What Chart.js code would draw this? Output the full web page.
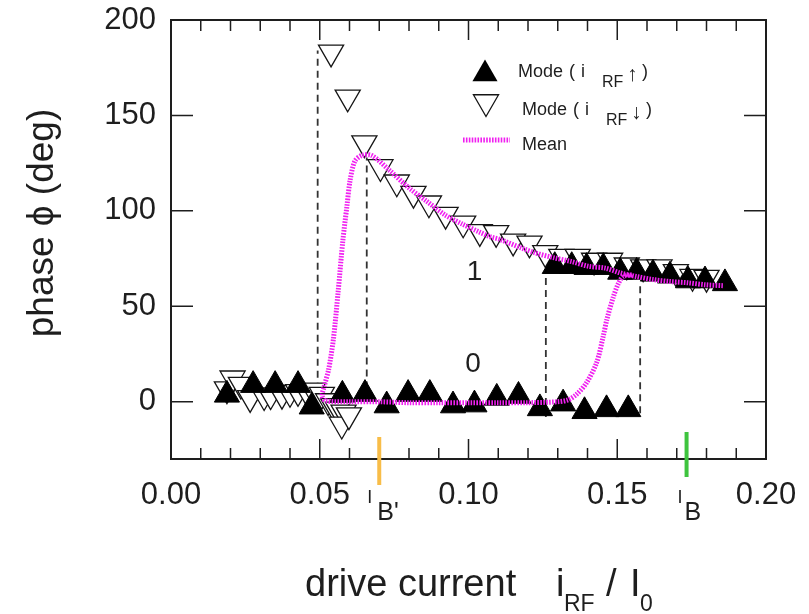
<!DOCTYPE html>
<html>
<head>
<meta charset="utf-8">
<script src="https://cdn.jsdelivr.net/npm/chart.js@4.4.1/dist/chart.umd.min.js"></script>
<style>
  body { margin: 0; background: #fff; }
  canvas { display: block; }
</style>
</head>
<body>
<canvas id="phaseChart" width="809" height="614"></canvas>
<script>
// axis ticks
const xTickVals = [0, 0.05, 0.1, 0.15, 0.2];
const xMinorStep = 0.01;
const yTickVals = [0, 50, 100, 150, 200];

// mode phase while sweeping i_RF up (filled triangles)
const upX = [0.0188, 0.0276, 0.0350, 0.0427, 0.0473, 0.0576, 0.0652, 0.0725, 0.0797, 0.0870,
  0.0948, 0.1020, 0.1095, 0.1168, 0.1240, 0.1318, 0.1390, 0.1464, 0.1537,
  0.1290, 0.1347, 0.1397, 0.1453, 0.1510, 0.1565, 0.1620, 0.1677, 0.1738, 0.1795, 0.1862];
const upY = [3.6, 8.7, 8.7, 8.7, -2.6, 3.6, 4, -2, 4, 4,
  -2, -1.5, 2, 3, -3.5, -1, -5, -4, -4,
  71, 71, 70.5, 70.5, 68, 68, 67, 66, 63.5, 63.5, 62];

// mode phase while sweeping i_RF down (open triangles)
const downX = [0.0188, 0.0207, 0.0235, 0.0266, 0.0313, 0.0335, 0.0373, 0.0400, 0.0427, 0.0457,
  0.0477, 0.0507, 0.0528, 0.0545, 0.0561, 0.0580, 0.0574, 0.0598,
  0.0538, 0.0594, 0.0650, 0.0704, 0.0759, 0.0815, 0.0867, 0.0923, 0.0982, 0.1038,
  0.1093, 0.1150, 0.1205, 0.1258, 0.1312, 0.1367, 0.1422, 0.1476, 0.1532, 0.1587,
  0.1642, 0.1697, 0.1753, 0.1800];
const downY = [6.6, 12.3, 9, 2, 3, 3.5, 3.7, 4.7, 5.2, 5.2,
  6, 3.7, 0.4, -2.2, -4, -5.6, -11.9, -7,
  183, 159.5, 135.5, 123, 115, 109, 104, 98, 93.5, 89,
  88.5, 84, 83, 78, 76, 76, 74, 74, 71.5, 70.5,
  70.5, 68, 65.5, 65];

// mean phase, listed in drawing order along the curve
const meanX = [0.1855, 0.1795, 0.1738, 0.1677, 0.1620, 0.1565, 0.1510, 0.1460, 0.1403, 0.1347,
  0.1285, 0.1224, 0.1179, 0.1106, 0.1072, 0.1035, 0.0980, 0.0920, 0.0860, 0.0800,
  0.0736, 0.0675, 0.0641, 0.0618, 0.0602, 0.0591, 0.0578, 0.0562, 0.0546, 0.0530,
  0.0515, 0.0508, 0.0520, 0.0600, 0.0700, 0.0800, 0.0900, 0.1000, 0.1100, 0.1200,
  0.1300, 0.1335, 0.1364, 0.1397, 0.1431, 0.1453, 0.1465, 0.1487, 0.1504, 0.1520, 0.1550];
const meanY = [60.8, 61.3, 62.3, 63, 64, 65.6, 67.5, 70, 71, 73.4,
  75.5, 78, 80.5, 85, 86.5, 89, 93, 98, 105, 112,
  121, 129, 129, 126, 116, 102, 85, 58, 33, 17,
  8, 3, 0.5, 0, 0, -0.5, -0.5, -0.5, -0.5, -0.5,
  0, 1, 4, 10, 20.6, 34.4, 43, 55, 62, 65.6, 66.5];

// switching currents (dashed verticals)
const jumpX = [0.0493, 0.0658, 0.1260, 0.1577];
const jumpLow = [0, 7, -8, -6];
const jumpHigh = [184, 128, 68, 63];

// marked currents I_B' and I_B on the x axis
const markX = [0.07, 0.1733];
const markSub = ["B'", "B"];
const markColor = ["#f8bd48", "#3ec43e"];

// branch numbers
const branchText = ["1", "0"];
const branchX = [0.1020, 0.1015];
const branchY = [68, 19.5];

const FONT = "'Liberation Sans', Arial, Helvetica, sans-serif";
const INK = "#1e1e1e";

const toPts = (xs, ys) => xs.map((x, i) => ({ x: x, y: ys[i] }));

const datasets = [
  {
    label: "Mean",
    data: toPts(meanX, meanY),
    showLine: true,
    borderColor: "#f020f0",
    borderWidth: 5,
    borderDash: [1.6, 1.3],
    pointRadius: 0,
    tension: 0.3,
    fill: false,
  },
  {
    label: "Mode up",
    data: toPts(upX, upY),
    pointStyle: "triangle",
    pointRadius: 14.5,
    backgroundColor: "#000",
    borderColor: "#000",
    borderWidth: 1,
    showLine: false,
  },
  {
    label: "Mode down",
    data: toPts(downX, downY),
    pointStyle: "triangle",
    pointRotation: 180,
    pointRadius: 14.5,
    backgroundColor: "#fff",
    borderColor: "#151515",
    borderWidth: 1.3,
    showLine: false,
  },
];

jumpX.forEach((x, i) => {
  datasets.push({
    label: "jump " + i,
    data: [{ x: x, y: jumpLow[i] }, { x: x, y: jumpHigh[i] }],
    showLine: true,
    borderColor: "#333",
    borderWidth: 1.8,
    borderDash: [7, 5],
    pointRadius: 0,
  });
});

// frame, inward ticks, labels with subscripts and the legend
const decor = {
  id: "decor",
  afterDatasetsDraw(chart) {
    const { ctx, chartArea: a } = chart;
    const xs = chart.scales.x;
    const ys = chart.scales.y;
    ctx.save();

    ctx.strokeStyle = INK;
    ctx.lineWidth = 2;
    ctx.strokeRect(a.left, a.top, a.right - a.left, a.bottom - a.top);

    ctx.lineWidth = 1.5;
    ctx.beginPath();
    for (let k = 0; k <= 20; k++) {
      const px = xs.getPixelForValue(k * xMinorStep);
      const len = k % 5 === 0 ? 20 : 11;
      ctx.moveTo(px, a.bottom);
      ctx.lineTo(px, a.bottom - len);
      ctx.moveTo(px, a.top);
      ctx.lineTo(px, a.top + len);
    }
    yTickVals.forEach((v) => {
      const py = ys.getPixelForValue(v);
      ctx.moveTo(a.left, py);
      ctx.lineTo(a.left + 22, py);
      ctx.moveTo(a.right, py);
      ctx.lineTo(a.right - 22, py);
    });
    ctx.stroke();

    // coloured marks for I_B' and I_B
    ctx.lineWidth = 4;
    markX.forEach((v, i) => {
      const px = xs.getPixelForValue(v);
      ctx.strokeStyle = markColor[i];
      ctx.beginPath();
      ctx.moveTo(px, a.bottom - (i === 0 ? 22 : 27));
      ctx.lineTo(px, a.bottom + (i === 0 ? 26 : 18));
      ctx.stroke();
      ctx.fillStyle = INK;
      ctx.textAlign = "left";
      ctx.textBaseline = "alphabetic";
      ctx.font = "18px " + FONT;
      ctx.fillText("I", px - (i === 0 ? 12 : 9), a.bottom + 44);
      ctx.font = "25px " + FONT;
      ctx.fillText(markSub[i], px - 2, a.bottom + 61);
    });

    // branch numbers
    ctx.fillStyle = INK;
    ctx.font = "28px " + FONT;
    ctx.textAlign = "center";
    ctx.textBaseline = "middle";
    branchText.forEach((t, i) => {
      ctx.fillText(t, xs.getPixelForValue(branchX[i]), ys.getPixelForValue(branchY[i]));
    });

    // x axis title
    ctx.textAlign = "left";
    ctx.textBaseline = "alphabetic";
    ctx.font = "38px " + FONT;
    ctx.fillText("drive current", 305, 596);
    ctx.fillText("i", 556, 596);
    ctx.fillText("/", 606, 596);
    ctx.fillText("I", 630, 596);
    ctx.font = "23px " + FONT;
    ctx.fillText("RF", 564, 611);
    ctx.fillText("0", 640, 611);

    // y axis title
    ctx.save();
    ctx.translate(53, 223);
    ctx.rotate(-Math.PI / 2);
    ctx.textAlign = "center";
    ctx.font = "37px " + FONT;
    ctx.fillText("phase \u03D5 (deg)", 0, 0);
    ctx.restore();

    // legend
    const tri = (cx, cy, r, down) => {
      const s = down ? -1 : 1;
      ctx.beginPath();
      ctx.moveTo(cx, cy - s * r);
      ctx.lineTo(cx + r * 0.866, cy + s * r * 0.5);
      ctx.lineTo(cx - r * 0.866, cy + s * r * 0.5);
      ctx.closePath();
    };
    ctx.lineWidth = 1.3;
    tri(485, 74, 14.5, false);
    ctx.fillStyle = "#000";
    ctx.fill();
    tri(486, 102, 14.5, true);
    ctx.fillStyle = "#fff";
    ctx.fill();
    ctx.strokeStyle = "#151515";
    ctx.stroke();

    ctx.strokeStyle = "#f020f0";
    ctx.lineWidth = 5;
    ctx.setLineDash([1.6, 1.3]);
    ctx.beginPath();
    ctx.moveTo(463, 140);
    ctx.lineTo(510, 140);
    ctx.stroke();
    ctx.setLineDash([]);

    ctx.fillStyle = INK;
    const legendRow = (x0, base, arrow) => {
      ctx.font = "18px " + FONT;
      ctx.fillText("Mode", x0, base);
      ctx.fillText("(", x0 + 51, base);
      ctx.fillText("i", x0 + 63, base);
      ctx.font = "16px " + FONT;
      ctx.fillText("RF", x0 + 84, base + 10);
      ctx.font = "21px " + FONT;
      ctx.fillText(arrow, x0 + 109, base + 4);
      ctx.font = "18px " + FONT;
      ctx.fillText(")", x0 + 124, base);
    };
    legendRow(518, 77, "\u2191");
    legendRow(522, 115, "\u2193");
    ctx.font = "18px " + FONT;
    ctx.fillText("Mean", 522, 150);

    ctx.restore();
  },
};

new Chart(document.getElementById("phaseChart"), {
  type: "scatter",
  data: { datasets: datasets },
  options: {
    responsive: false,
    animation: false,
    events: [],
    layout: { padding: { top: 20, right: 43, left: 0, bottom: 0 } },
    scales: {
      x: {
        type: "linear",
        min: 0,
        max: 0.2,
        grid: { display: false },
        border: { display: false },
        afterBuildTicks: (s) => { s.ticks = xTickVals.map((v) => ({ value: v })); },
        afterFit: (s) => {
          s.height = 155;
          s.paddingLeft = 0;
          s.paddingRight = 0;
        },
        ticks: {
          font: { family: FONT, size: 31 },
          color: INK,
          padding: 10,
          maxRotation: 0,
          autoSkip: false,
          callback: (v) => v.toFixed(2),
        },
      },
      y: {
        type: "linear",
        min: -30,
        max: 200,
        grid: { display: false },
        border: { display: false },
        afterBuildTicks: (s) => { s.ticks = yTickVals.map((v) => ({ value: v })); },
        afterFit: (s) => {
          s.width = 171;
          s.paddingTop = 0;
          s.paddingBottom = 0;
        },
        ticks: {
          font: { family: FONT, size: 31 },
          color: INK,
          padding: 7,
          autoSkip: false,
        },
      },
    },
    plugins: {
      legend: { display: false },
      tooltip: { enabled: false },
    },
  },
  plugins: [decor],
});
</script>
</body>
</html>
